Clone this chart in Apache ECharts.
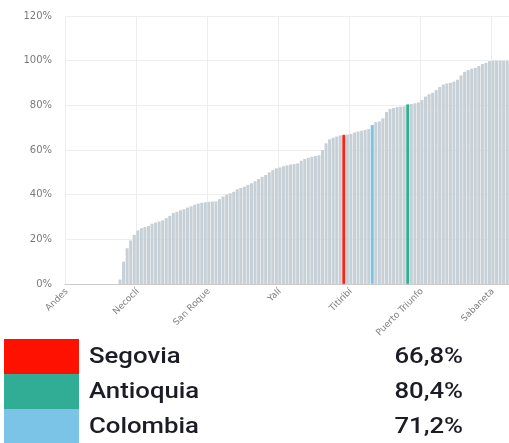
<!DOCTYPE html>
<html>
<head>
<meta charset="utf-8">
<script src="https://cdn.jsdelivr.net/npm/echarts@6/dist/echarts.min.js"></script>
<style>
  html, body { margin: 0; padding: 0; background: #fff; }
  #chart { width: 509px; height: 443px; }
</style>
</head>
<body>
<div id="chart"></div>
<script>
// labelled categories (the ones the axis shows) and the highlighted ones
var shownTowns = { 0: 'Andes', 20: 'Necoclí', 40: 'San Roque', 60: 'Yalí', 80: 'Titiribí', 100: 'Puerto Triunfo', 120: 'Sabaneta' };
var highlightTowns = { 78: 'Segovia', 86: 'Colombia', 96: 'Antioquia' };
var otherTowns = ['Murindó', 'Vigía del Fuerte', 'Nechí', 'El Bagre', 'Zaragoza', 'Cáceres', 'Tarazá', 'Valdivia', 'Ituango', 'Briceño',
  'Anorí', 'Remedios', 'Mutatá', 'Dabeiba', 'Uramita', 'Frontino', 'Urrao', 'Peque', 'Cañasgordas', 'Abriaquí',
  'Buriticá', 'Giraldo', 'Arboletes', 'San Juan de Urabá', 'San Pedro de Urabá', 'Turbo', 'Apartadó', 'Carepa', 'Chigorodó', 'Yondó',
  'Puerto Berrío', 'Puerto Nare', 'Caracolí', 'Maceo', 'Vegachí', 'Yolombó', 'Amalfi', 'Cisneros', 'Medellín', 'Santo Domingo',
  'Alejandría', 'Concepción', 'San Carlos', 'San Luis', 'San Francisco', 'San Rafael', 'Cocorná', 'Granada', 'Argelia', 'Nariño',
  'Sonsón', 'Abejorral', 'Caicedo', 'Anzá', 'Betulia', 'Salgar', 'Concordia', 'Betania', 'Ciudad Bolívar', 'Hispania',
  'Jardín', 'Jericó', 'Pueblorrico', 'Tarso', 'Támesis', 'Valparaíso', 'Caramanta', 'Montebello', 'Santa Bárbara', 'Fredonia',
  'Venecia', 'Armenia', 'Heliconia', 'Ebéjico', 'Sabanalarga', 'Liborina', 'Olaya', 'Sopetrán', 'San Jerónimo', 'Santa Fe de Antioquia',
  'Toledo', 'San Andrés de Cuerquia', 'San José de la Montaña', 'Campamento', 'Angostura', 'Yarumal', 'Carolina del Príncipe', 'Gómez Plata', 'Guadalupe', 'Belmira',
  'Entrerríos', 'Santa Rosa de Osos', 'Donmatías', 'San Pedro de los Milagros', 'Angelópolis', 'Amagá', 'Caucasia', 'La Pintada', 'Guatapé', 'El Peñol',
  'San Vicente Ferrer', 'Barbosa', 'Girardota', 'Copacabana', 'Bello', 'Guarne', 'Marinilla', 'El Santuario', 'El Carmen de Viboral', 'La Unión',
  'La Ceja', 'El Retiro', 'Rionegro', 'Caldas', 'La Estrella'];

// share per category, sorted ascending (percent)
var values = [0, 0, 0, 0, 0, 0, 0, 0, 0, 0, 0, 0, 0, 0, 0,
  2, 10, 16, 19.5, 22, 24, 25, 25.5, 26, 27, 27.5, 28, 28.5, 29.5, 30.5,
  31.8, 32.3, 33, 33.5, 34.2, 34.8, 35.5, 36, 36.4, 36.6, 36.8, 36.9, 37, 38, 39.2,
  40, 40.6, 41.3, 42.4, 43, 43.6, 44.4, 45.1, 46, 47, 48, 48.8, 50, 51, 51.8,
  52.2, 52.7, 53.1, 53.5, 53.7, 54, 55.2, 56, 56.5, 57, 57.3, 57.6, 60, 63, 64.8,
  65.5, 66, 66.5, 66.8, 66.9, 67.2, 67.8, 68.3, 68.6, 69, 69.4, 71.2, 72.5, 72.8, 74.2,
  77, 78.4, 78.8, 79.2, 79.4, 79.6, 80.4, 80.6, 80.9, 81.3, 82.4, 83.9, 85, 85.6, 86.9,
  88.2, 89.3, 89.8, 90.1, 90.6, 91.5, 93.4, 95, 95.8, 96.4, 96.8, 97.6, 98.5, 99, 99.8,
  100, 100, 100, 100, 100];

var yTicks = [0, 20, 40, 60, 80, 100, 120];

var legendNames = ['Segovia', 'Antioquia', 'Colombia'];
var legendValues = [66.8, 80.4, 71.2];
var legendColors = ['#ff1100', '#30ad94', '#7cc3e8'];

var barColor = '#c6d0d6';
var highlightColor = { 'Segovia': '#f5261b', 'Antioquia': '#2fae94', 'Colombia': '#7cc3e8' };

function buildCategories() {
  var cats = [];
  var k = 0;
  for (var i = 0; i < values.length; i++) {
    if (shownTowns[i] !== undefined) cats.push(shownTowns[i]);
    else if (highlightTowns[i] !== undefined) cats.push(highlightTowns[i]);
    else cats.push(otherTowns[k++]);
  }
  return cats;
}

function buildBars(cats) {
  return values.map(function (v, i) {
    var c = highlightColor[cats[i]];
    if (c) return { value: v, itemStyle: { color: c, borderColor: c, borderWidth: 0.6 } };
    return v;
  });
}

function pct(v) {
  return v.toFixed(1).replace('.', ',') + '%';
}

function buildLegend() {
  var els = [];
  var top = 339, rowH = 35;
  for (var i = 0; i < legendNames.length; i++) {
    var y = top + i * rowH;
    els.push({
      type: 'rect', left: 4, top: y,
      shape: { width: 75, height: i === legendNames.length - 1 ? 34 : rowH },
      style: { fill: legendColors[i] }
    });
    els.push({
      type: 'text', x: 89, y: y + rowH / 2 + 1, scaleX: 1.17,
      style: { text: legendNames[i], fill: '#1c1c26', font: '500 22px Roboto', textAlign: 'left', textVerticalAlign: 'middle' }
    });
    els.push({
      type: 'text', x: 463, y: y + rowH / 2 + 1, scaleX: 1.17,
      style: { text: pct(legendValues[i]), fill: '#1c1c26', font: '500 22px Roboto', textAlign: 'right', textVerticalAlign: 'middle' }
    });
  }
  return els;
}

function every20(index) {
  return index % 20 === 0;
}

function draw() {
  var cats = buildCategories();
  var myChart = echarts.init(document.getElementById('chart'), null, { renderer: 'canvas' });
  var option = {
    animation: false,
    grid: { left: 65, right: -4, top: 16, bottom: 159, containLabel: false },
    xAxis: {
      type: 'category',
      data: cats,
      boundaryGap: true,
      axisLine: { lineStyle: { color: '#cccccc' } },
      axisTick: { interval: every20, alignWithLabel: true, length: 4, lineStyle: { color: '#cccccc' } },
      splitLine: { show: true, interval: every20, lineStyle: { color: '#eeeeee' } },
      axisLabel: {
        interval: every20, rotate: 45, margin: 6,
        color: '#808080', fontFamily: 'DejaVu Sans', fontSize: 9
      }
    },
    yAxis: {
      type: 'value',
      min: yTicks[0], max: yTicks[yTicks.length - 1], interval: yTicks[1] - yTicks[0],
      axisLine: { show: false },
      axisTick: { show: false },
      splitLine: { lineStyle: { color: '#eeeeee' } },
      axisLabel: { formatter: '{value}%', margin: 13, color: '#7a7a7a', fontFamily: 'DejaVu Sans', fontSize: 10 }
    },
    series: [{
      type: 'bar',
      data: buildBars(cats),
      barCategoryGap: '15%',
      itemStyle: { color: barColor }
    }],
    graphic: buildLegend()
  };
  myChart.setOption(option);
}

draw();
</script>
</body>
</html>
